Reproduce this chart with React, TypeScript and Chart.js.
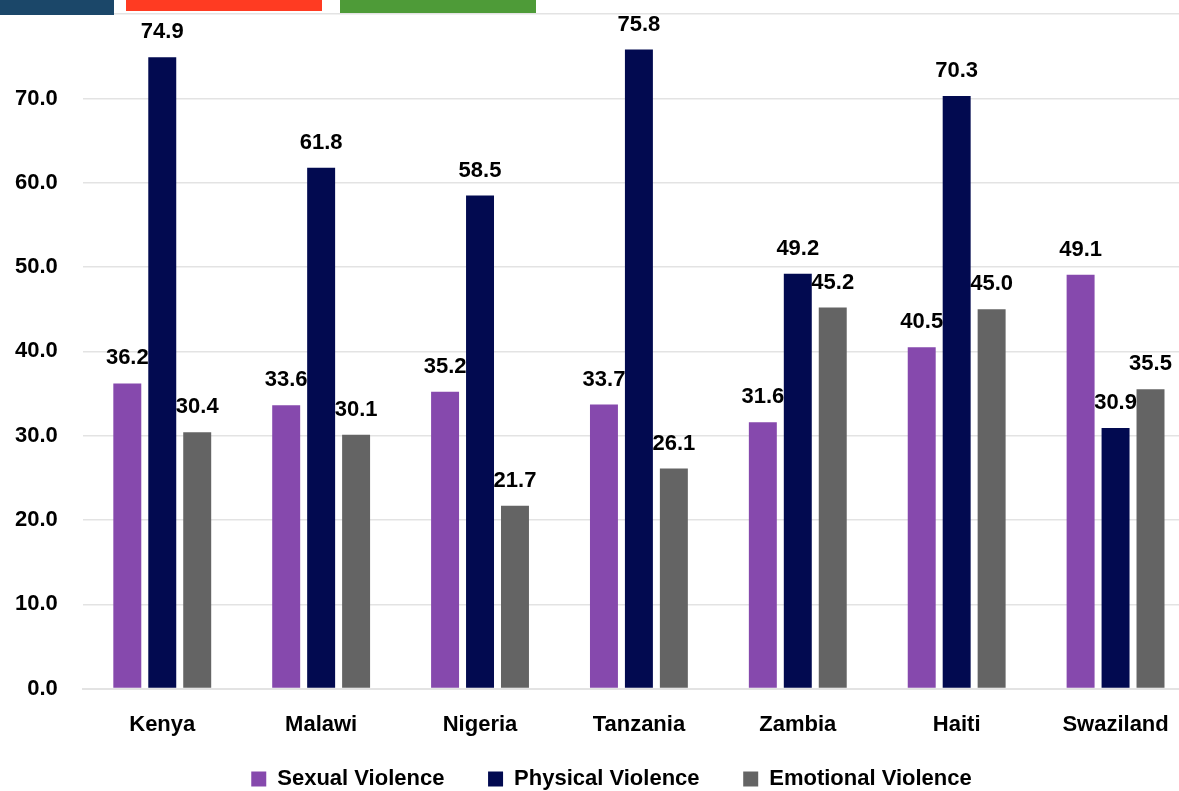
import React, { useEffect, useRef } from "react";
import { Chart, registerables } from "chart.js";

Chart.register(...registerables);

const categories = ["Kenya", "Malawi", "Nigeria", "Tanzania", "Zambia", "Haiti", "Swaziland"];
const sexualViolence = [36.2, 33.6, 35.2, 33.7, 31.6, 40.5, 49.1];
const physicalViolence = [74.9, 61.8, 58.5, 75.8, 49.2, 70.3, 30.9];
const emotionalViolence = [30.4, 30.1, 21.7, 26.1, 45.2, 45.0, 35.5];
const seriesNames = ["Sexual Violence", "Physical Violence", "Emotional Violence"];
const seriesColors = ["#8649AD", "#020A50", "#646464"];

const FONT = "'Liberation Sans', Arial, sans-serif";

const valueLabels = {
  id: "valueLabels",
  afterDatasetsDraw(chart: any) {
    const ctx = chart.ctx;
    ctx.save();
    ctx.font = `bold 22px ${FONT}`;
    ctx.fillStyle = "#000000";
    ctx.textAlign = "center";
    ctx.textBaseline = "bottom";
    chart.data.datasets.forEach((ds: any, i: number) => {
      const meta = chart.getDatasetMeta(i);
      meta.data.forEach((bar: any, j: number) => {
        const v = ds.data[j] as number;
        ctx.fillText(v.toFixed(1), bar.x, bar.y - 14);
      });
    });
    ctx.restore();
  },
};

const legendShift = {
  id: "legendShift",
  afterLayout(chart: any) {
    const lg = chart.legend;
    if (lg) {
      lg.left += 19;
      lg.right += 19;
    }
  },
};

export default function App() {
  const ref = useRef<HTMLCanvasElement | null>(null);
  useEffect(() => {
    document.body.style.margin = "0";
    if (!ref.current) return;
    const chart = new Chart(ref.current, {
      type: "bar",
      data: {
        labels: categories,
        datasets: [sexualViolence, physicalViolence, emotionalViolence].map((d, i) => ({
          label: seriesNames[i],
          data: d,
          backgroundColor: seriesColors[i],
          categoryPercentage: 0.66,
          barPercentage: 0.8,
        })),
      },
      options: {
        animation: false,
        responsive: false,
        layout: { padding: { left: 14, right: 99, top: 14, bottom: 0 } },
        scales: {
          x: {
            grid: { display: false, drawTicks: false },
            border: { display: true, color: "#e3e3e3", width: 2 },
            ticks: { color: "#000", font: { family: FONT, size: 22, weight: "bold" }, padding: 23 },
          },
          y: {
            min: 0,
            max: 80,
            grid: { color: "#e3e3e3", lineWidth: 1.5, drawTicks: false },
            border: { display: false },
            ticks: {
              stepSize: 10,
              color: "#000",
              padding: 25,
              font: { family: FONT, size: 22, weight: "bold" },
              callback: (v: any) => (Number(v) === 80 ? "" : Number(v).toFixed(1)),
            },
          },
        },
        plugins: {
          legend: {
            position: "bottom",
            labels: {
              boxWidth: 15,
              boxHeight: 15,
              padding: 7,
              color: "#000",
              font: { family: FONT, size: 22, weight: "bold" },
              generateLabels: (c: any) => {
                const items = Chart.defaults.plugins.legend.labels.generateLabels(c);
                return items.map((it: any, i: number) => ({
                  ...it,
                  text: i < items.length - 1 ? it.text + "\u00a0\u00a0\u00a0\u00a0\u00a0\u00a0" : it.text,
                  lineWidth: 0,
                }));
              },
            },
          },
          tooltip: { enabled: false },
        },
      },
      plugins: [valueLabels, legendShift],
    });
    return () => chart.destroy();
  }, []);

  return (
    <div style={{ position: "fixed", left: 0, top: 0, width: 1179, height: 791, overflow: "hidden", background: "#fff" }}>
      <canvas ref={ref} width={1318} height={824} style={{ position: "absolute", left: -24, top: -24 }} />
      <div style={{ position: "absolute", left: 0, top: 0, width: 114, height: 15, background: "#1B4769" }} />
      <div style={{ position: "absolute", left: 126, top: 0, width: 196, height: 11, background: "#FF3B22" }} />
      <div style={{ position: "absolute", left: 340, top: 0, width: 196, height: 13, background: "#4E9B38" }} />
    </div>
  );
}
